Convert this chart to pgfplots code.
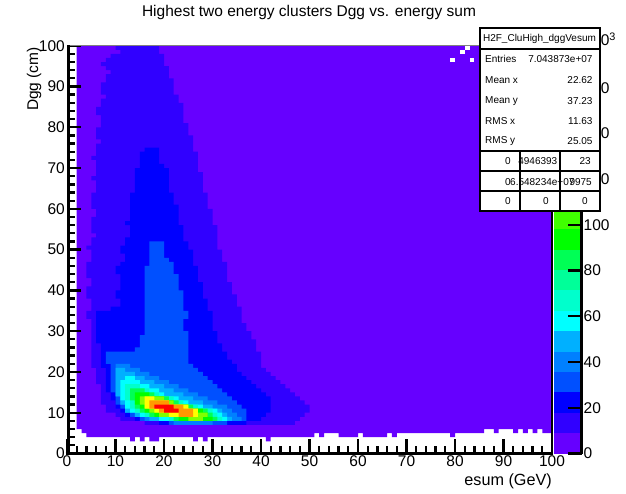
\documentclass[border=0pt]{standalone}
\usepackage{fontspec}
\setmainfont{Liberation Sans}
\usepackage{pgfplots}
\pgfplotsset{compat=1.18}
\definecolor{b1}{HTML}{6600FF}\definecolor{b2}{HTML}{3000FF}\definecolor{b3}{HTML}{0000FF}
\definecolor{b4}{HTML}{0050FF}\definecolor{b5}{HTML}{0080FF}\definecolor{b6}{HTML}{00B0FF}
\definecolor{b7}{HTML}{00FFFF}\definecolor{b8}{HTML}{00FFCC}\definecolor{b9}{HTML}{00FF99}
\definecolor{b10}{HTML}{00FF55}\definecolor{b11}{HTML}{00FF00}\definecolor{b12}{HTML}{40FF00}
\definecolor{b13}{HTML}{80FF00}\definecolor{b14}{HTML}{BFFF00}\definecolor{b15}{HTML}{FFFF00}
\definecolor{b16}{HTML}{FFCC00}\definecolor{b17}{HTML}{FF9900}\definecolor{b18}{HTML}{FF6600}
\definecolor{b19}{HTML}{FF3300}\definecolor{b20}{HTML}{FF0000}
\newcommand{\tk}{\fontsize{15.5}{15.5}\selectfont}
\newcommand{\st}{\fontsize{10}{10}\selectfont}
\begin{document}
\begin{tikzpicture}
\path[use as bounding box] (0pt,0pt) rectangle (626pt,493pt);
\begin{axis}[
  at={(67pt,39.5pt)},anchor=south west,scale only axis,width=485pt,height=407.8pt,
  xmin=0,xmax=100,ymin=0,ymax=100,
  xtick={0,10,...,100},ytick={0,10,...,100},
  minor x tick num=4,minor y tick num=4,
  xtick pos=bottom,ytick pos=left,tick align=inside,
  major tick length=14pt,minor tick length=8pt,
  major tick style={black,line width=2.3pt},
  minor tick style={black,line width=2.3pt},
  /pgf/number format/assume math mode=true,
  ticklabel style={font=\tk,inner sep=0pt},
  xticklabel style={yshift=-2pt},
  yticklabel style={xshift=-2pt},
  axis line style={gray,line width=0.8pt},
  axis on top,
]
% level 1
\addplot[fill=b1,draw=none] coordinates {(2,100)(100,100)(100,5)(98,5)(98,6)(97,6)(97,5)(96,5)(96,6)(95,6)(95,5)(94,5)(94,6)(93,6)(93,5)(92,5)(92,6)(89,6)(89,5)(88,5)(88,6)(86,6)(86,5)(80,5)(80,4)(79,4)(79,5)(68,5)(68,4)(67,4)(67,5)(66,5)(66,4)(61,4)(61,5)(60,5)(60,4)(56,4)(56,5)(53,5)(53,4)(52,4)(52,5)(51,5)(51,4)(42,4)(42,3)(41,3)(41,4)(29,4)(29,3)(28,3)(28,4)(27,4)(27,3)(26,3)(26,4)(19,4)(19,3)(17,3)(17,4)(16,4)(16,3)(15,3)(15,4)(14,4)(14,3)(13,3)(13,4)(4,4)(4,5)(3,5)(3,6)(2,6)};
% empty bins near the top right
\addplot[fill=white,draw=none] coordinates {(79,96)(80,96)(80,97)(79,97)};
\addplot[fill=white,draw=none] coordinates {(83,96)(84,96)(84,97)(83,97)};
\addplot[fill=white,draw=none] coordinates {(81,98)(82,98)(82,99)(81,99)};
\addplot[fill=white,draw=none] coordinates {(82,99)(83,99)(83,100)(82,100)};
% level 2
\addplot[fill=b2,draw=none] coordinates {(10,100)(10,99)(11,99)(11,98)(9,98)(9,97)(8,97)(8,96)(7,96)(7,95)(8,95)(8,94)(9,94)(9,93)(8,93)(8,91)(7,91)(7,88)(8,88)(8,87)(7,87)(7,85)(6,85)(6,83)(7,83)(7,80)(6,80)(6,77)(7,77)(7,76)(6,76)(6,73)(5,73)(5,72)(6,72)(6,68)(5,68)(5,67)(6,67)(6,64)(5,64)(5,60)(6,60)(6,58)(5,58)(5,54)(6,54)(6,53)(5,53)(5,51)(4,51)(4,50)(5,50)(5,47)(4,47)(4,43)(5,43)(5,41)(4,41)(4,38)(5,38)(5,35)(4,35)(4,33)(5,33)(5,21)(6,21)(6,17)(7,17)(7,12)(8,12)(8,10)(10,10)(10,9)(11,9)(11,8)(16,8)(16,7)(47,7)(47,8)(48,8)(48,9)(49,9)(49,10)(50,10)(50,12)(49,12)(49,13)(48,13)(48,14)(47,14)(47,15)(46,15)(46,16)(45,16)(45,17)(44,17)(44,18)(43,18)(43,19)(42,19)(42,20)(41,20)(41,21)(40,21)(40,25)(39,25)(39,28)(38,28)(38,30)(37,30)(37,32)(36,32)(36,36)(35,36)(35,39)(34,39)(34,42)(33,42)(33,47)(32,47)(32,50)(31,50)(31,56)(30,56)(30,60)(29,60)(29,64)(28,64)(28,69)(27,69)(27,74)(26,74)(26,78)(25,78)(25,81)(24,81)(24,86)(23,86)(23,88)(22,88)(22,92)(21,92)(21,95)(20,95)(20,98)(19,98)(19,100)};
% level 3
\addplot[fill=b3,draw=none] coordinates {(16,75)(16,74)(15,74)(15,70)(14,70)(14,64)(13,64)(13,57)(12,57)(12,56)(13,56)(13,53)(12,53)(12,51)(11,51)(11,49)(12,49)(12,47)(11,47)(11,46)(10,46)(10,44)(11,44)(11,40)(10,40)(10,38)(11,38)(11,36)(9,36)(9,35)(6,35)(6,27)(7,27)(7,21)(8,21)(8,15)(9,15)(9,13)(10,13)(10,11)(11,11)(11,10)(12,10)(12,9)(14,9)(14,8)(19,8)(19,7)(37,7)(37,8)(40,8)(40,9)(41,9)(41,10)(42,10)(42,14)(41,14)(41,15)(40,15)(40,16)(39,16)(39,17)(38,17)(38,18)(37,18)(37,19)(36,19)(36,20)(35,20)(35,22)(34,22)(34,23)(33,23)(33,25)(32,25)(32,27)(31,27)(31,30)(30,30)(30,35)(29,35)(29,38)(28,38)(28,42)(27,42)(27,46)(26,46)(26,50)(25,50)(25,52)(24,52)(24,56)(23,56)(23,61)(22,61)(22,64)(21,64)(21,70)(20,70)(20,71)(19,71)(19,75)};
% level 4
\addplot[fill=b4,draw=none] coordinates {(17,52)(17,46)(16,46)(16,29)(15,29)(15,26)(14,26)(14,25)(8,25)(8,22)(9,22)(9,15)(10,15)(10,12)(11,12)(11,11)(12,11)(12,10)(13,10)(13,9)(15,9)(15,8)(21,8)(21,7)(33,7)(33,8)(37,8)(37,11)(36,11)(36,12)(35,12)(35,13)(34,13)(34,14)(33,14)(33,15)(32,15)(32,16)(31,16)(31,17)(30,17)(30,18)(29,18)(29,19)(28,19)(28,20)(27,20)(27,21)(26,21)(26,22)(25,22)(25,30)(24,30)(24,33)(25,33)(25,35)(24,35)(24,40)(23,40)(23,44)(22,44)(22,47)(21,47)(21,48)(20,48)(20,52)};
% level 5
\addplot[fill=b5,draw=none] coordinates {(10,22)(10,14)(11,14)(11,12)(12,12)(12,10)(14,10)(14,9)(16,9)(16,8)(22,8)(22,7)(30,7)(30,8)(36,8)(36,9)(35,9)(35,10)(34,10)(34,11)(33,11)(33,12)(31,12)(31,13)(29,13)(29,14)(27,14)(27,15)(25,15)(25,16)(23,16)(23,17)(21,17)(21,18)(19,18)(19,19)(17,19)(17,20)(15,20)(15,21)(13,21)(13,22)};
% level 6
\addplot[fill=b6,draw=none] coordinates {(10,21)(10,14)(11,14)(11,12)(12,12)(12,10)(14,10)(14,9)(17,9)(17,8)(34,8)(34,9)(33,9)(33,10)(32,10)(32,11)(30,11)(30,12)(28,12)(28,13)(26,13)(26,14)(24,14)(24,15)(22,15)(22,16)(20,16)(20,17)(18,17)(18,18)(16,18)(16,19)(14,19)(14,20)(12,20)(12,21)};
% level 7
\addplot[fill=b7,draw=none] coordinates {(12,19)(12,18)(11,18)(11,13)(12,13)(12,11)(13,11)(13,10)(15,10)(15,9)(19,9)(19,8)(33,8)(33,9)(32,9)(32,10)(31,10)(31,11)(28,11)(28,12)(25,12)(25,13)(23,13)(23,14)(20,14)(20,15)(19,15)(19,16)(17,16)(17,17)(15,17)(15,18)(14,18)(14,19)};
% level 8
\addplot[fill=b8,draw=none] coordinates {(12,17)(12,13)(13,13)(13,11)(14,11)(14,10)(16,10)(16,9)(21,9)(21,8)(32,8)(32,9)(31,9)(31,10)(30,10)(30,11)(27,11)(27,12)(24,12)(24,13)(22,13)(22,14)(19,14)(19,15)(17,15)(17,16)(15,16)(15,17)};
% level 10
\addplot[fill=b10,draw=none] coordinates {(13,16)(13,13)(14,13)(14,11)(15,11)(15,10)(17,10)(17,9)(22,9)(22,8)(31,8)(31,9)(30,9)(30,10)(29,10)(29,11)(26,11)(26,12)(23,12)(23,13)(21,13)(21,14)(18,14)(18,15)(16,15)(16,16)};
% level 11
\addplot[fill=b11,draw=none] coordinates {(14,15)(14,12)(15,12)(15,11)(16,11)(16,10)(18,10)(18,9)(23,9)(23,8)(30,8)(30,9)(29,9)(29,10)(28,10)(28,11)(25,11)(25,12)(22,12)(22,13)(20,13)(20,14)(17,14)(17,15)};
% level 13
\addplot[fill=b13,draw=none] coordinates {(15,14)(15,12)(16,12)(16,11)(17,11)(17,10)(19,10)(19,9)(25,9)(25,8)(28,8)(28,9)(29,9)(29,10)(27,10)(27,11)(25,11)(25,12)(22,12)(22,13)(20,13)(20,14)};
% level 15
\addplot[fill=b15,draw=none] coordinates {(16,14)(16,11)(18,11)(18,10)(21,10)(21,9)(27,9)(27,11)(25,11)(25,12)(21,12)(21,13)(18,13)(18,14)};
% level 17
\addplot[fill=b17,draw=none] coordinates {(17,13)(17,11)(19,11)(19,10)(23,10)(23,9)(26,9)(26,11)(24,11)(24,12)(21,12)(21,13)};
% level 20
\addplot[fill=b20,draw=none] coordinates {(18,12)(18,11)(20,11)(20,10)(23,10)(23,11)(22,11)(22,12)};
\end{axis}
\begin{axis}[
  at={(554pt,39.5pt)},anchor=south west,scale only axis,width=27.5pt,height=407.8pt,
  xmin=0,xmax=1,ymin=0,ymax=178.4,
  axis x line=none,axis y line*=right,
  ytick={0,20,...,160},
  tick align=inside,major tick length=14pt,
  major tick style={black,line width=2.3pt},
  y axis line style={-,black,line width=2.3pt},
  /pgf/number format/assume math mode=true,
  ticklabel style={font=\tk,inner sep=0pt},
  yticklabel style={xshift=2pt},
  axis on top,
]
\addplot[fill=b1,draw=none] coordinates {(0,0)(1,0)(1,8.92)(0,8.92)};
\addplot[fill=b2,draw=none] coordinates {(0,8.92)(1,8.92)(1,17.84)(0,17.84)};
\addplot[fill=b3,draw=none] coordinates {(0,17.84)(1,17.84)(1,26.76)(0,26.76)};
\addplot[fill=b4,draw=none] coordinates {(0,26.76)(1,26.76)(1,35.68)(0,35.68)};
\addplot[fill=b5,draw=none] coordinates {(0,35.68)(1,35.68)(1,44.6)(0,44.6)};
\addplot[fill=b6,draw=none] coordinates {(0,44.6)(1,44.6)(1,53.52)(0,53.52)};
\addplot[fill=b7,draw=none] coordinates {(0,53.52)(1,53.52)(1,62.44)(0,62.44)};
\addplot[fill=b8,draw=none] coordinates {(0,62.44)(1,62.44)(1,71.36)(0,71.36)};
\addplot[fill=b9,draw=none] coordinates {(0,71.36)(1,71.36)(1,80.28)(0,80.28)};
\addplot[fill=b10,draw=none] coordinates {(0,80.28)(1,80.28)(1,89.2)(0,89.2)};
\addplot[fill=b11,draw=none] coordinates {(0,89.2)(1,89.2)(1,98.12)(0,98.12)};
\addplot[fill=b12,draw=none] coordinates {(0,98.12)(1,98.12)(1,107.04)(0,107.04)};
\addplot[fill=b13,draw=none] coordinates {(0,107.04)(1,107.04)(1,178.4)(0,178.4)};
\end{axis}
\begin{scope}[x=1pt,y=1pt]
\draw[black,line width=2.6pt] (68.3,39.5) -- (68.3,448);
\draw[black,line width=2.4pt] (65.5,39.5) -- (553,39.5);
\draw[black,line width=2pt] (552,39.5) -- (552,447);
\node[font=\fontsize{15.5}{15.5}\selectfont,anchor=center] at (309,481) {Highest two energy clusters Dgg vs. energy sum};
\node[font=\fontsize{16.2}{16.2}\selectfont,anchor=east,inner sep=0pt] at (552,12) {esum (GeV)};
\node[font=\tk,anchor=east,inner sep=0pt,rotate=90] at (34,446) {Dgg (cm)};
% exponent of the colour scale
\node[font=\tk,anchor=base west,inner sep=0pt] at (592,447) {10$^{\mathrm{3}}$};
% stats box
\fill[white] (479.5,281.5) rectangle (600,465);
\draw[black,line width=2pt] (479.5,281.5) rectangle (600,465);
\draw[black,line width=2pt] (479.5,444) -- (600,444);
\draw[black,line width=2pt] (479.5,342) -- (600,342);
\draw[black,line width=2pt] (479.5,321.5) -- (600,321.5);
\draw[black,line width=2pt] (479.5,301.5) -- (600,301.5);
\draw[black,line width=2pt] (519.5,281.5) -- (519.5,342);
\draw[black,line width=2pt] (560,281.5) -- (560,342);
\node[font=\st,inner sep=0pt] at (539.5,454) {H2F\_CluHigh\_dggVesum};
\foreach \yy/\aa/\bb in {433.7/Entries/7.043873e+07,413/Mean x/22.62,392.3/Mean y/37.23,372/RMS x/11.63,352/RMS y/25.05}{
  \node[font=\st,anchor=west,inner sep=0pt] at (485,\yy) {\aa};
  \node[font=\st,anchor=east,inner sep=0pt] at (592.7,\yy) {\bb};
}
\node[font=\st,anchor=east,inner sep=0pt] at (511,331.5) {0};
\node[font=\st,anchor=east,inner sep=0pt] at (557.5,331.5) {4946393};
\node[font=\st,anchor=east,inner sep=0pt] at (591,331.5) {23};
\node[font=\st,anchor=east,inner sep=0pt] at (511,311.3) {0};
\node[font=\st,anchor=west,inner sep=0pt] at (510,311.3) {6.548234e+07};
\node[font=\st,anchor=east,inner sep=0pt] at (592,311.3) {9975};
\node[font=\st,anchor=east,inner sep=0pt] at (511,291.5) {0};
\node[font=\st,anchor=east,inner sep=0pt] at (549,291.5) {0};
\node[font=\st,anchor=east,inner sep=0pt] at (588,291.5) {0};
\end{scope}
\end{tikzpicture}
\end{document}
